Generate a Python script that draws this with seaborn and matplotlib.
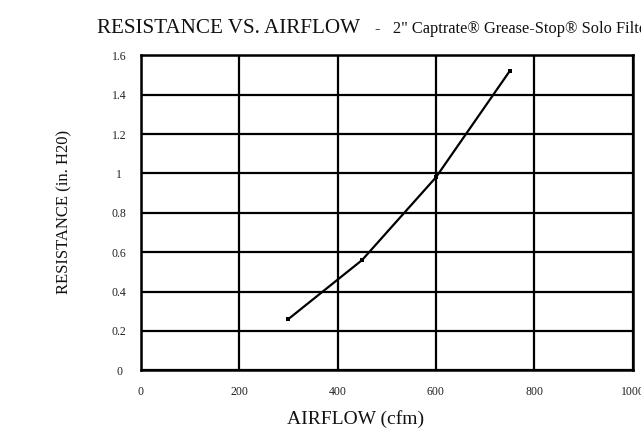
import matplotlib
matplotlib.use("Agg")
import matplotlib.pyplot as plt
import seaborn as sns
import pandas as pd

# values
airflow = [300, 450, 600, 750]
resistance = [0.26, 0.56, 0.98, 1.52]
x_ticks = [0, 200, 400, 600, 800, 1000]
y_ticks = [0, 0.2, 0.4, 0.6, 0.8, 1, 1.2, 1.4, 1.6]

sns.set_theme(style="white")
plt.rcParams["font.family"] = ["Liberation Serif", "DejaVu Serif"]

df = pd.DataFrame({"airflow": airflow, "resistance": resistance})

fig = plt.figure(figsize=(6.41, 4.43), dpi=100)
ax = fig.add_axes([140.7 / 641, 1 - 370.3 / 443, 492 / 641, 315 / 443])

sns.lineplot(data=df, x="airflow", y="resistance", ax=ax, color="black",
             linewidth=1.6, marker="s", markersize=3, markeredgewidth=0)

ax.set_xlim(0, 1000)
ax.set_ylim(0, 1.6)
ax.set_xticks(x_ticks)
ax.set_yticks(y_ticks)
ax.set_xticklabels([str(t) for t in x_ticks])
ax.set_yticklabels([f"{t:g}" for t in y_ticks], ha="center")
ax.tick_params(axis="both", length=0, labelsize=8.5, colors="#222222")
ax.tick_params(axis="x", pad=11)
ax.tick_params(axis="y", pad=15.5)

ax.grid(True, color="black", linewidth=1.6)
ax.set_axisbelow(True)
for s in ax.spines.values():
    s.set_color("black")
    s.set_linewidth(1.8)

ax.set_xlabel("")
ax.set_ylabel("")
fig.text(356 / 641, 1 - 419 / 443, "AIRFLOW (cfm)", fontsize=14,
         ha="center", va="center", color="#111111")
fig.text(64 / 641, 1 - 212 / 443, "RESISTANCE (in. H20)", fontsize=12,
         ha="center", va="center", rotation=90, color="#111111")

# title in two sizes, cut off at the right edge like the source
fig.text(97 / 641, 1 - 33 / 443, "RESISTANCE VS. AIRFLOW", fontsize=15.2,
         ha="left", va="baseline", color="#111111")
fig.text(375 / 641, 1 - 33 / 443,
         "-   2\" Captrate\u00ae Grease-Stop\u00ae Solo Filter", fontsize=11.8,
         ha="left", va="baseline", color="#111111")

fig.savefig("out.png", dpi=100)
